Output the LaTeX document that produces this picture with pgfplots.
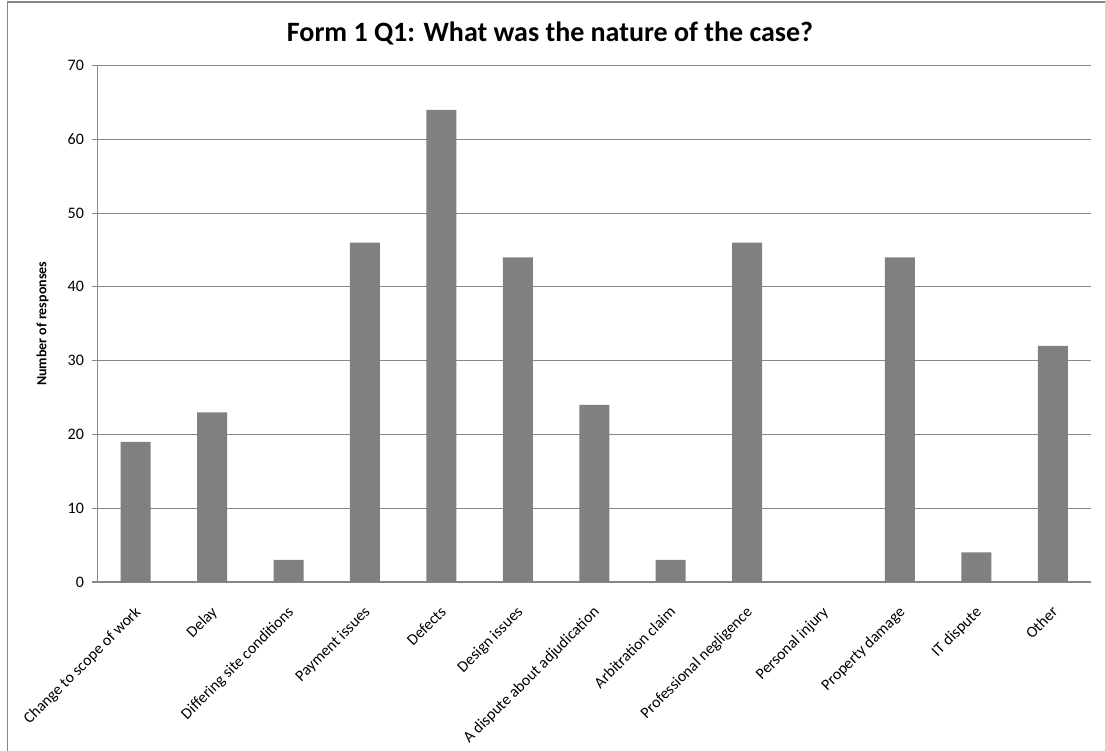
\documentclass[border=0pt]{standalone}
\usepackage{pgfplots}
\pgfplotsset{compat=1.18}
\usepackage{fontspec}
\setmainfont{Carlito}
\definecolor{bargray}{RGB}{128,128,128}
\definecolor{gridgray}{RGB}{134,134,134}
\begin{document}
\begin{tikzpicture}[x=1pt,y=1pt]
\useasboundingbox (-97.5,-169) rectangle (1007.5,582);
\draw[gridgray, line width=1.2pt] (-90,-175) -- (-90,580) -- (1015,580);
\begin{axis}[
  at={(0,0)}, anchor=south west,
  scale only axis, width=993.5pt, height=516.5pt,
  ybar, bar width=30pt,
  xmin=-0.5, xmax=12.5, ymin=0, ymax=70,
  ytick={0,10,...,70},
  xtick={0,...,12},
  xticklabels={Change to scope of work, Delay, Differing site conditions, Payment issues, Defects, Design issues, A dispute about adjudication, Arbitration claim, Professional negligence, Personal injury, Property damage, IT dispute, Other},
  axis x line*=bottom, axis y line*=left,
  axis line style={gridgray, line width=1.6pt, -},
  ymajorgrids, grid style={gridgray, line width=1.1pt},
  major tick length=6pt,
  tick align=outside,
  xtick style={draw=none},
  ytick style={gridgray, line width=1.1pt},
  /pgf/number format/assume math mode=true,
  yticklabel style={font=\fontsize{16}{18}\selectfont, xshift=-4pt},
  xticklabel style={font=\fontsize{15.8}{18}\selectfont, xshift=-2pt, yshift=-17pt, rotate=45, anchor=north east, inner sep=0pt},
  clip=false,
]
\addplot[fill=bargray, draw=none] coordinates {
(0,19) (1,23) (2,3) (3,46) (4,64) (5,44) (6,24) (7,3) (8,46) (9,0) (10,44) (11,4) (12,32)};
\node[rotate=90, font=\bfseries\fontsize{14}{16}\selectfont] at (axis description cs:-0.0553,0.5) {Number of responses};
\end{axis}
\node[font=\bfseries\fontsize{28}{32}\selectfont, anchor=base] at (452.5,540) {Form 1 Q1: What was the nature of the case?};
\end{tikzpicture}
\end{document}
